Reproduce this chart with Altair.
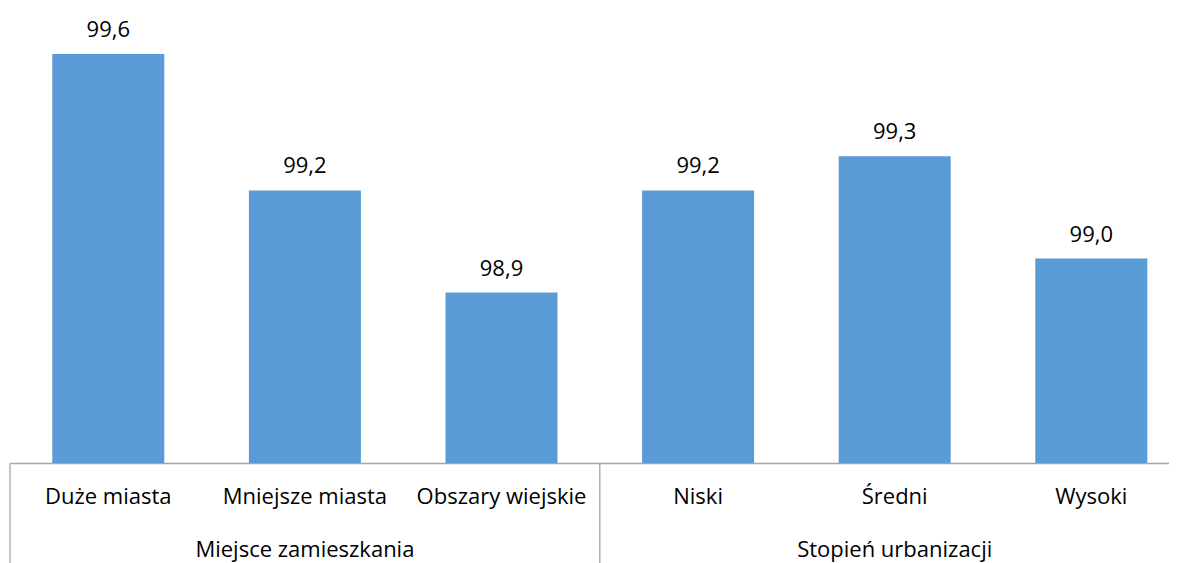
import altair as alt
import pandas as pd

categories = ["Duże miasta", "Mniejsze miasta", "Obszary wiejskie", "Niski", "Średni", "Wysoki"]
values = [99.6, 99.2, 98.9, 99.2, 99.3, 99.0]
groups = ["Miejsce zamieszkania", "Stopień urbanizacji"]
group_sizes = [3, 3]
y_min = 98.4
y_max = 99.7

df = pd.DataFrame({"cat": categories, "value": values, "idx": list(range(len(categories)))})
df["mid"] = df["idx"] + 0.5
df["base"] = y_min
df["label"] = [f"{v:.1f}".replace(".", ",") for v in values]

starts = [0]
for s in group_sizes[:-1]:
    starts.append(starts[-1] + s)
gdf = pd.DataFrame({"group": groups, "start": starts,
                    "center": [s + n / 2 for s, n in zip(starts, group_sizes)]})

W = 1159
H = 443
STEP = 196.6
FONT = "Open Sans"
FS = 22

xscale = alt.Scale(domain=[0, W / STEP], nice=False, zero=False, padding=0)
yscale = alt.Scale(domain=[y_min, y_max], nice=False, zero=False, padding=0)

base = alt.Chart(df)

bars = base.mark_bar(width=112, color="#5B9BD5", clip=True).encode(
    x=alt.X("mid:Q", scale=xscale,
            axis=alt.Axis(title=None, labels=False, ticks=False, grid=False,
                          domainColor="#a6a6a6", domainWidth=1.3)),
    y=alt.Y("value:Q", scale=yscale, axis=None),
    y2="base:Q",
)

vals = base.mark_text(font=FONT, fontSize=FS, color="#000000", dy=-24).encode(
    x=alt.X("mid:Q", scale=xscale),
    y=alt.Y("value:Q", scale=yscale),
    text="label:N",
)

catlabels = base.mark_text(font=FONT, fontSize=FS, color="#000000").encode(
    x=alt.X("mid:Q", scale=xscale),
    y=alt.value(H + 34),
    text="cat:N",
)

gbase = alt.Chart(gdf)
glabels = gbase.mark_text(font=FONT, fontSize=FS, color="#000000").encode(
    x=alt.X("center:Q", scale=xscale),
    y=alt.value(H + 87),
    text="group:N",
)
seps = gbase.mark_rule(color="#a6a6a6", strokeWidth=1.3).encode(
    x=alt.X("start:Q", scale=xscale),
    y=alt.value(H),
    y2=alt.value(H + 110),
)

chart = alt.layer(bars, vals, catlabels, glabels, seps).properties(
    width=W, height=H,
    background="white",
    autosize=alt.AutoSizeParams(type="none"),
    padding={"left": 2, "top": 12, "right": 0, "bottom": 100},
).configure_view(stroke=None)

chart.save("out.html", embed_options={"renderer": "svg", "actions": False})
